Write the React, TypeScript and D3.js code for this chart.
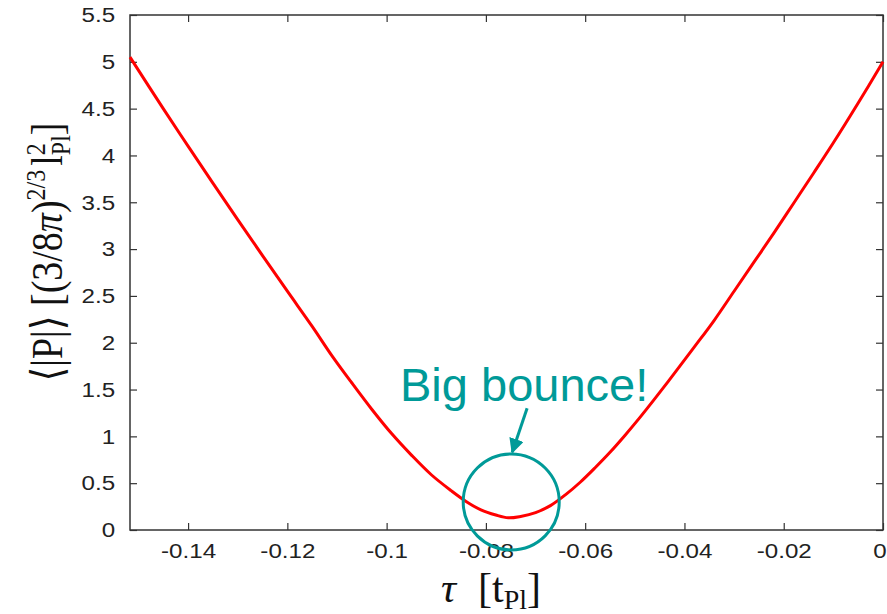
import React, { useEffect, useRef } from 'react';
import * as d3 from 'd3';

// tau in Planck times, <|P|> in units of (3/8 pi)^(2/3) l_Pl^2
const tau = [
  -0.1517, -0.145, -0.14, -0.135, -0.13, -0.125, -0.12, -0.115, -0.111, -0.107,
  -0.103, -0.099, -0.095, -0.091, -0.087, -0.084, -0.081, -0.078, -0.0755, -0.073,
  -0.07, -0.067, -0.064, -0.061, -0.058, -0.055, -0.052, -0.049, -0.046, -0.042,
  -0.038, -0.034, -0.03, -0.026, -0.022, -0.018, -0.014, -0.01, -0.005, 0,
];
const meanP = [
  5.05, 4.5, 4.1, 3.705, 3.315, 2.93, 2.55, 2.175, 1.86, 1.57,
  1.29, 1.03, 0.8, 0.59, 0.42, 0.305, 0.215, 0.16, 0.13, 0.145,
  0.185, 0.26, 0.375, 0.51, 0.665, 0.83, 1.01, 1.2, 1.4, 1.675,
  1.955, 2.24, 2.55, 2.86, 3.17, 3.49, 3.81, 4.135, 4.56, 5.0,
];
const xTicks = [-0.14, -0.12, -0.1, -0.08, -0.06, -0.04, -0.02, 0];
const yTicks = [0, 0.5, 1, 1.5, 2, 2.5, 3, 3.5, 4, 4.5, 5, 5.5];

// annotation: label, arrow and circle round the minimum
const noteText = 'Big bounce!';
const noteAt = [-0.0973, 1.38];
const arrowFrom = [-0.0717, 1.3];
const arrowTo = [-0.0747, 0.83];
const ringAt = [-0.0749, 0.3];

export default function App() {
  const svgRef = useRef<SVGSVGElement>(null);

  useEffect(() => {
    const width = 887;
    const height = 614;
    const margin = { top: 15, right: 4, bottom: 84, left: 130 };
    const teal = '#009a98';
    const sans = '"Liberation Sans", Arial, Helvetica, sans-serif';
    const serif = '"Liberation Serif", "DejaVu Serif", "Times New Roman", serif';

    const svg = d3.select(svgRef.current)
      .attr('width', width)
      .attr('height', height)
      .html(null);

    const x = d3.scaleLinear().domain([-0.1517, 0]).range([margin.left, width - margin.right]);
    const y = d3.scaleLinear().domain([0, 5.5]).range([height - margin.bottom, margin.top]);
    const fmt = (d: number) => String(d);

    const styleTicks = (g: any) => {
      g.select('.domain').remove();
      g.selectAll('.tick line').attr('stroke', '#333').attr('stroke-width', 1.2);
      g.selectAll('.tick text')
        .attr('fill', '#222')
        .style('font-family', sans)
        .style('font-size', '21px');
    };

    svg.append('g')
      .attr('transform', `translate(0,${y(0)})`)
      .call(d3.axisBottom(x).tickValues(xTicks).tickFormat(fmt).tickSize(-7).tickSizeOuter(0).tickPadding(13))
      .call(styleTicks)
      .call((g: any) => g.selectAll('.tick text')
        .attr('x', (d: number) => (d === 0 ? -3 : 0))
        .attr('transform', 'scale(1.15,1)'));

    svg.append('g')
      .attr('transform', `translate(0,${y(5.5)})`)
      .call(d3.axisTop(x).tickValues(xTicks).tickFormat(() => '').tickSize(-7).tickSizeOuter(0))
      .call(styleTicks);

    svg.append('g')
      .attr('transform', `translate(${x(-0.1517)},0)`)
      .call(d3.axisLeft(y).tickValues(yTicks).tickFormat(fmt).tickSize(-7).tickSizeOuter(0).tickPadding(15))
      .call(styleTicks)
      .call((g: any) => g.selectAll('.tick text').attr('x', -13).attr('transform', 'scale(1.15,1)'));

    svg.append('g')
      .attr('transform', `translate(${x(0)},0)`)
      .call(d3.axisRight(y).tickValues(yTicks).tickFormat(() => '').tickSize(-7).tickSizeOuter(0))
      .call(styleTicks);

    // frame
    svg.append('rect')
      .attr('x', x(-0.1517))
      .attr('y', y(5.5))
      .attr('width', x(0) - x(-0.1517))
      .attr('height', y(0) - y(5.5))
      .attr('fill', 'none')
      .attr('stroke', '#333')
      .attr('stroke-width', 1.5);

    // curve
    const line = d3.line<number>()
      .x((d, i) => x(tau[i]))
      .y((d) => y(d))
      .curve(d3.curveCatmullRom.alpha(0.5));

    svg.append('path')
      .datum(meanP)
      .attr('d', line)
      .attr('fill', 'none')
      .attr('stroke', '#ff0000')
      .attr('stroke-width', 3);

    // annotation
    svg.append('circle')
      .attr('cx', x(ringAt[0]))
      .attr('cy', y(ringAt[1]))
      .attr('r', 48)
      .attr('fill', 'none')
      .attr('stroke', teal)
      .attr('stroke-width', 3);

    const defs = svg.append('defs');
    defs.append('marker')
      .attr('id', 'head')
      .attr('viewBox', '0 0 10 10')
      .attr('refX', 9)
      .attr('refY', 5)
      .attr('markerWidth', 5)
      .attr('markerHeight', 5)
      .attr('orient', 'auto')
      .append('path')
      .attr('d', 'M0,0 L10,5 L0,10 z')
      .attr('fill', teal);

    svg.append('line')
      .attr('x1', x(arrowFrom[0]))
      .attr('y1', y(arrowFrom[1]))
      .attr('x2', x(arrowTo[0]))
      .attr('y2', y(arrowTo[1]))
      .attr('stroke', teal)
      .attr('stroke-width', 3)
      .attr('marker-end', 'url(#head)');

    svg.append('text')
      .attr('x', x(noteAt[0]))
      .attr('y', y(noteAt[1]))
      .attr('fill', teal)
      .style('font-family', sans)
      .style('font-size', '47px')
      .text(noteText);

    // x title
    const xt = svg.append('text')
      .attr('x', 491)
      .attr('y', 602)
      .attr('text-anchor', 'middle')
      .attr('fill', '#111')
      .style('font-family', serif)
      .style('font-size', '42px');
    xt.append('tspan').style('font-style', 'italic').text('τ');
    xt.append('tspan').attr('dx', 22).text('[t');
    xt.append('tspan').attr('dy', 7).style('font-size', '28px').text('Pl');
    xt.append('tspan').attr('dy', -7).text(']');

    // y title
    const yt = svg.append('text')
      .attr('transform', 'translate(62,252) scale(1.15,1) rotate(-90)')
      .attr('text-anchor', 'middle')
      .attr('fill', '#111')
      .style('font-family', serif)
      .style('font-size', '38px');
    yt.append('tspan').text('⟨|P|⟩ [(3/8');
    yt.append('tspan').style('font-style', 'italic').text('π');
    yt.append('tspan').text(')');
    yt.append('tspan').attr('dy', -15).style('font-size', '24px').text('2/3');
    yt.append('tspan').attr('dy', 15).attr('dx', 4).text('l');
    yt.append('tspan').attr('dy', -15).style('font-size', '24px').text('2');
    yt.append('tspan').attr('dx', -12).attr('dy', 22).style('font-size', '24px').text('Pl');
    yt.append('tspan').attr('dy', -7).text(']');
  }, []);

  return <svg ref={svgRef} style={{ position: 'absolute', left: 0, top: 0 }} />;
}
